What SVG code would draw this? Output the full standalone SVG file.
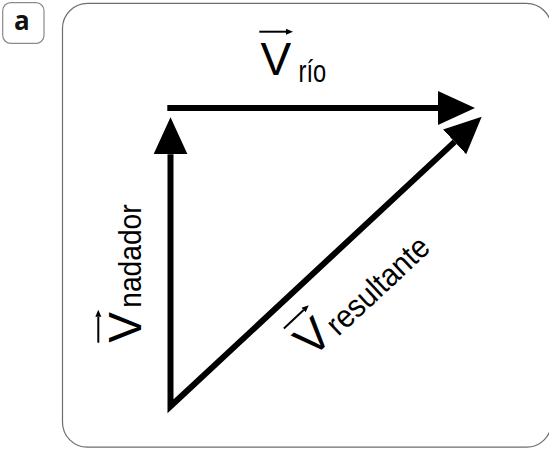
<svg xmlns="http://www.w3.org/2000/svg" width="549" height="449" viewBox="0 0 549 449">
  <style>
    .frame { fill: #ffffff; stroke: #6e6e6e; stroke-width: 1.2; }
    .tag { fill: #ffffff; stroke: #8a8a8a; stroke-width: 1.2; }
    .tagtxt { font-family: "Open Sans", "Noto Sans", sans-serif; font-weight: bold; font-size: 26px; fill: #111; }
    .vec { fill: none; stroke: #000; stroke-width: 6; stroke-linejoin: miter; stroke-miterlimit: 10; }
    .big { font-family: "Liberation Sans", Arial, sans-serif; font-size: 46px; fill: #000; }
    .sub { font-family: "Liberation Sans", Arial, sans-serif; font-size: 32px; fill: #000; }
    .over { fill: none; stroke: #000; stroke-width: 2; }
  </style>
  <defs>
    <marker id="head" markerUnits="userSpaceOnUse" markerWidth="38" markerHeight="35" refX="0" refY="17" orient="auto-start-reverse" viewBox="0 0 38 35">
      <path d="M0,0 L37,17 L0,34 Z" fill="#000"/>
    </marker>
    <marker id="small" markerUnits="userSpaceOnUse" markerWidth="8" markerHeight="8" refX="0" refY="3" orient="auto" viewBox="0 0 8 6">
      <path d="M0,0 L7,3 L0,6 Z" fill="#000"/>
    </marker>
  </defs>

  <g id="tag-a">
    <rect class="tag" x="2.7" y="2.7" width="41.3" height="40.6" rx="8"/>
    <text class="tagtxt" x="21.8" y="29.6" text-anchor="middle">a</text>
  </g>

  <g id="panel">
    <rect class="frame" x="62.5" y="3.4" width="489" height="443.8" rx="25"/>
  </g>

  <g id="connectors">
    <path id="v-rio" class="vec" d="M167.3,108 L438,108" marker-end="url(#head)"/>
    <path id="v-nadador-resultante" class="vec" d="M170.5,154.3 L170.5,406.3 L454.6,141.9" marker-start="url(#head)" marker-end="url(#head)"/>
  </g>

  <g id="label-rio">
    <text class="big" x="260.5" y="75" font-size="47">V</text>
    <path class="over" d="M259.3,31.7 L286,31.7" marker-end="url(#small)"/>
    <text class="sub" transform="translate(298.5,82) scale(0.74,1)" font-size="36">río</text>
  </g>

  <g id="label-nadador" transform="translate(140.7,342.7) rotate(-90)">
    <text class="big" x="0" y="0">V</text>
    <path class="over" d="M0,-42.4 L26,-42.4" marker-end="url(#small)"/>
    <text class="sub" transform="translate(35,0) scale(0.88,1)" font-size="33">nadador</text>
  </g>

  <g id="label-resultante" transform="translate(312.1,358.7) rotate(-43)">
    <text class="big" x="0" y="0">V</text>
    <path class="over" d="M0,-41.4 L27,-41.4" marker-end="url(#small)"/>
    <text class="sub" transform="translate(34,2) scale(0.91,1)" font-size="33">resultante</text>
  </g>
</svg>
